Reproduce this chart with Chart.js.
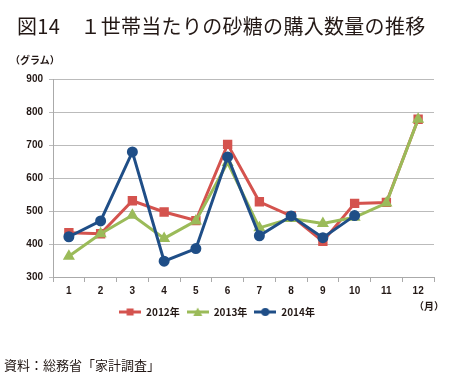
<!DOCTYPE html>
<html>
<head>
<meta charset="utf-8">
<script src="https://cdn.jsdelivr.net/npm/chart.js@4/dist/chart.umd.min.js"></script>
<style>
  html, body { margin: 0; padding: 0; background: #fff; }
  #wrap { position: relative; width: 450px; height: 374px; overflow: hidden; }
  #chart { position: absolute; left: 0; top: 0; }
  .txt { position: absolute; font-family: "Noto Sans CJK JP", sans-serif; color: #231815; white-space: nowrap; }
  #title { left: 17px; top: 11px; font-size: 20px; letter-spacing: 0.3px; }
  #unit { left: 10px; top: 52px; font-size: 10px; font-weight: bold; }
  #month { left: 414px; top: 298px; font-size: 10px; font-weight: bold; }
  #source { left: 4px; top: 355px; font-size: 13px; }
</style>
</head>
<body>
<div id="wrap">
  <canvas id="chart" width="450" height="374"></canvas>
  <div class="txt" id="title">図14　１世帯当たりの砂糖の購入数量の推移</div>
  <div class="txt" id="unit">（グラム）</div>
  <div class="txt" id="month">（月）</div>
  <div class="txt" id="source">資料：総務省「家計調査」</div>
</div>
<script>
// ===== Date =====
const months = ["1", "2", "3", "4", "5", "6", "7", "8", "9", "10", "11", "12"];
const sugar2012 = [434, 431, 531, 497, 471, 702, 528, 485, 408, 523, 526, 778];
const sugar2013 = [363, 431, 487, 417, 470, 647, 449, 477, 462, 481, 524, 778];
const sugar2014 = [422, 470, 679, 348, 386, 664, 425, 485, 419, 486, null, null];
const yTicks = [300, 400, 500, 600, 700, 800, 900];

const RED = "#d4534e";
const GREEN = "#9bbb59";
const BLUE = "#1f4e87";

// mic icon pentru legendă: linie + marker
function legendIcon(color, style) {
  const c = document.createElement("canvas");
  c.width = 22; c.height = 10;
  const g = c.getContext("2d");
  g.strokeStyle = color; g.fillStyle = color; g.lineWidth = 3;
  g.beginPath(); g.moveTo(0, 5); g.lineTo(22, 5); g.stroke();
  g.beginPath();
  if (style === "rect") g.rect(7.5, 1.5, 7, 7);
  else if (style === "triangle") { g.moveTo(11, 0.5); g.lineTo(15.5, 9); g.lineTo(6.5, 9); g.closePath(); }
  else g.arc(11, 5, 4, 0, Math.PI * 2);
  g.fill();
  return c;
}

// order: 2014 desenat deasupra
const series = [
  { label: "2012年", data: sugar2012, color: RED, style: "rect", radius: 4.5, order: 3 },
  { label: "2013年", data: sugar2013, color: GREEN, style: "triangle", radius: 4, order: 2 },
  { label: "2014年", data: sugar2014, color: BLUE, style: "circle", radius: 4, order: 1 }
];

const tickFont = { family: "'Liberation Sans', Arial, sans-serif", size: 10, weight: "bold" };

new Chart(document.getElementById("chart").getContext("2d"), {
  type: "line",
  data: {
    labels: months,
    datasets: series.map(s => ({
      label: s.label,
      data: s.data,
      order: s.order,
      borderColor: s.color,
      backgroundColor: s.color,
      pointBackgroundColor: s.color,
      pointBorderColor: s.color,
      pointStyle: s.style,
      pointRadius: s.radius,
      borderWidth: 3,
      tension: 0,
      spanGaps: false
    }))
  },
  options: {
    responsive: false,
    animation: false,
    layout: { padding: { top: 79, right: 16, bottom: 47, left: 0 } },
    scales: {
      x: {
        offset: true,
        grid: { offset: true, drawOnChartArea: false, color: "#aaa", tickLength: 5 },
        border: { color: "#aaa" },
        ticks: { font: tickFont, color: "#231815", padding: 3 }
      },
      y: {
        min: 300, max: 900,
        afterFit: scale => { scale.width = 53; },
        afterBuildTicks: scale => { scale.ticks = yTicks.map(v => ({ value: v })); },
        grid: { color: "#bbb", tickLength: 4 },
        border: { color: "#aaa" },
        ticks: { font: tickFont, color: "#231815", padding: 6 }
      }
    },
    plugins: {
      tooltip: { enabled: false },
      legend: {
        position: "bottom",
        labels: {
          usePointStyle: true,
          pointStyleWidth: 22,
          boxHeight: 10,
          font: { family: "'Noto Sans CJK JP', sans-serif", size: 10, weight: "bold" },
          color: "#231815",
          padding: 7,
          sort: (a, b) => a.datasetIndex - b.datasetIndex,
          generateLabels: chart => Chart.defaults.plugins.legend.labels.generateLabels(chart).map(l => {
            const s = series[l.datasetIndex];
            l.pointStyle = legendIcon(s.color, s.style);
            return l;
          })
        }
      }
    }
  }
});
</script>
</body>
</html>
